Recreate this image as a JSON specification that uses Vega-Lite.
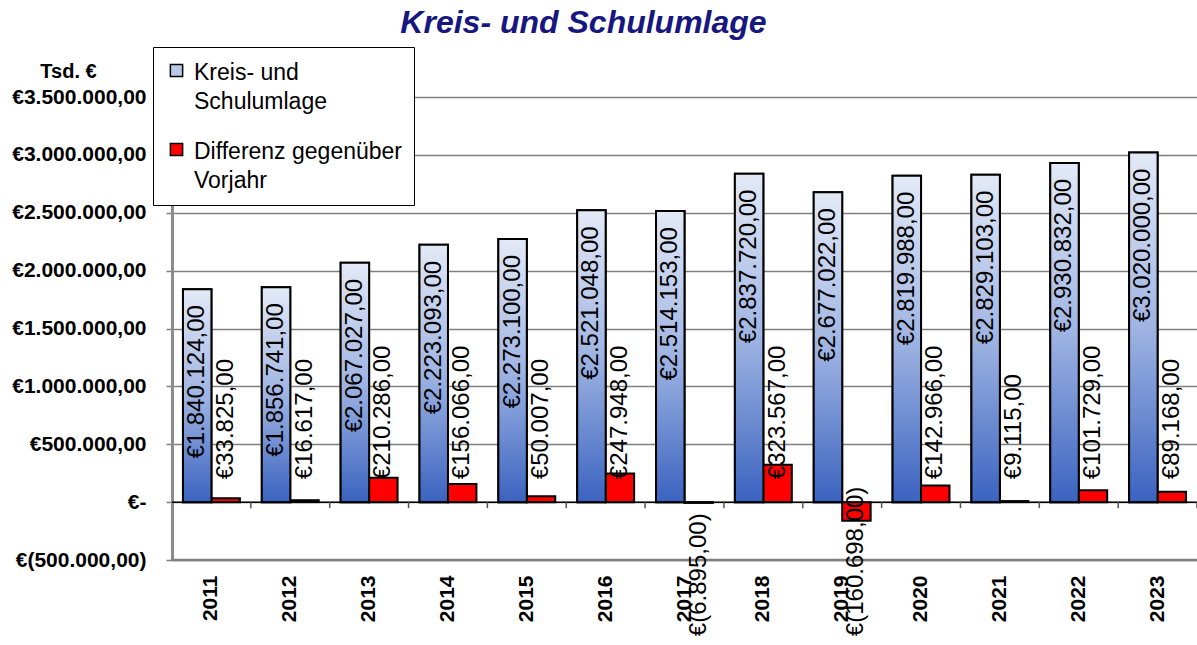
{
  "$schema": "https://vega.github.io/schema/vega-lite/v6.json",
  "width": 1025,
  "height": 463,
  "autosize": {"type": "none"},
  "padding": {"left": 172, "top": 97, "right": 0, "bottom": 85},
  "background": "white",
  "config": {
    "locale": {"number": {"decimal": ",", "thousands": ".", "grouping": [3], "currency": ["€", ""]}},
    "view": {"stroke": null},
    "font": "Liberation Sans"
  },
  "title": {
    "text": "Kreis- und Schulumlage",
    "anchor": "middle",
    "frame": "group",
    "dx": -101,
    "offset": 7,
    "font": "Liberation Sans",
    "fontSize": 32,
    "fontStyle": "italic",
    "fontWeight": "bold",
    "color": "#17177f"
  },
  "data": {
    "values": [
      {"year": "2011", "series": "Kreis- und Schulumlage", "value": 1840124},
      {"year": "2011", "series": "Differenz gegenüber Vorjahr", "value": 33825},
      {"year": "2012", "series": "Kreis- und Schulumlage", "value": 1856741},
      {"year": "2012", "series": "Differenz gegenüber Vorjahr", "value": 16617},
      {"year": "2013", "series": "Kreis- und Schulumlage", "value": 2067027},
      {"year": "2013", "series": "Differenz gegenüber Vorjahr", "value": 210286},
      {"year": "2014", "series": "Kreis- und Schulumlage", "value": 2223093},
      {"year": "2014", "series": "Differenz gegenüber Vorjahr", "value": 156066},
      {"year": "2015", "series": "Kreis- und Schulumlage", "value": 2273100},
      {"year": "2015", "series": "Differenz gegenüber Vorjahr", "value": 50007},
      {"year": "2016", "series": "Kreis- und Schulumlage", "value": 2521048},
      {"year": "2016", "series": "Differenz gegenüber Vorjahr", "value": 247948},
      {"year": "2017", "series": "Kreis- und Schulumlage", "value": 2514153},
      {"year": "2017", "series": "Differenz gegenüber Vorjahr", "value": -6895},
      {"year": "2018", "series": "Kreis- und Schulumlage", "value": 2837720},
      {"year": "2018", "series": "Differenz gegenüber Vorjahr", "value": 323567},
      {"year": "2019", "series": "Kreis- und Schulumlage", "value": 2677022},
      {"year": "2019", "series": "Differenz gegenüber Vorjahr", "value": -160698},
      {"year": "2020", "series": "Kreis- und Schulumlage", "value": 2819988},
      {"year": "2020", "series": "Differenz gegenüber Vorjahr", "value": 142966},
      {"year": "2021", "series": "Kreis- und Schulumlage", "value": 2829103},
      {"year": "2021", "series": "Differenz gegenüber Vorjahr", "value": 9115},
      {"year": "2022", "series": "Kreis- und Schulumlage", "value": 2930832},
      {"year": "2022", "series": "Differenz gegenüber Vorjahr", "value": 101729},
      {"year": "2023", "series": "Kreis- und Schulumlage", "value": 3020000},
      {"year": "2023", "series": "Differenz gegenüber Vorjahr", "value": 89168}
    ]
  },
  "transform": [
    {"calculate": "'€' + (datum.value < 0 ? '(' + format(-datum.value, ',.2f') + ')' : format(datum.value, ',.2f'))", "as": "lbl"}
  ],
  "layer": [
    {
      "mark": {"type": "bar", "stroke": "black", "strokeWidth": 2},
      "encoding": {
        "x": {
          "field": "year", "type": "nominal", "sort": null,
          "scale": {"paddingInner": 0.278, "paddingOuter": 0.139},
          "axis": {
            "title": null, "labelAngle": -90, "labelFontSize": 21, "labelFontWeight": "bold",
            "labelFont": "Liberation Sans", "labelColor": "black", "ticks": false, "domain": false,
            "labelPadding": 15, "labelBaseline": "middle", "labelAlign": "right"
          }
        },
        "xOffset": {
          "field": "series", "type": "nominal",
          "scale": {"domain": ["Kreis- und Schulumlage", "Differenz gegenüber Vorjahr"], "paddingInner": 0, "paddingOuter": 0}
        },
        "y": {
          "field": "value", "type": "quantitative",
          "scale": {"domain": [-500000, 3500000], "nice": false, "zero": false},
          "axis": {
            "values": [-500000, 0, 500000, 1000000, 1500000, 2000000, 2500000, 3000000, 3500000],
            "labelExpr": "datum.value == 0 ? '€-' : (datum.value < 0 ? '€(' + format(-datum.value, ',.2f') + ')' : '€' + format(datum.value, ',.2f'))",
            "labelFontSize": 21, "labelFontWeight": "bold", "labelFont": "Liberation Sans", "labelColor": "black",
            "labelPadding": 20, "tickSize": 6, "tickColor": "#7f7f7f", "tickWidth": 1.5,
            "domainColor": "#8c8c8c", "domainWidth": 3,
            "gridColor": "#7f7f7f", "gridWidth": 1.5,
            "title": "Tsd. €", "titleAngle": 0, "titleX": -104, "titleY": -26,
            "titleAlign": "center", "titleBaseline": "middle",
            "titleFontSize": 20, "titleFontWeight": "bold", "titleFont": "Liberation Sans", "titleColor": "black"
          }
        },
        "color": {
          "field": "series", "type": "nominal",
          "scale": {"domain": ["Kreis- und Schulumlage", "Differenz gegenüber Vorjahr"], "range": ["#b9c9ea", "#ff0000"]},
          "legend": {
            "orient": "none", "legendX": -19, "legendY": -50, "title": null,
            "fillColor": "white", "strokeColor": "black", "padding": 12,
            "symbolType": "square", "symbolSize": 150, "symbolStrokeColor": "black", "symbolStrokeWidth": 1.5,
            "symbolOffset": 0, "symbolOpacity": 1,
            "labelFont": "Liberation Sans", "labelFontSize": 23, "labelColor": "black", "labelLimit": 400,
            "labelOffset": 6, "labelBaseline": "top", "rowPadding": 24,
            "labelExpr": "datum.label == 'Kreis- und Schulumlage' ? ['Kreis- und', 'Schulumlage'] : ['Differenz gegenüber', 'Vorjahr']",
            "encode": {"labels": {"update": {"lineHeight": {"value": 29}, "dy": {"value": -9}}}}
          }
        }
      }
    },
    {
      "transform": [{"filter": "datum.series == 'Kreis- und Schulumlage'"}],
      "mark": {
        "type": "bar", "stroke": "black", "strokeWidth": 2,
        "fill": {"gradient": "linear", "x1": 0, "y1": 0, "x2": 0, "y2": 1,
          "stops": [{"offset": 0, "color": "#e3e9f6"}, {"offset": 0.5, "color": "#9fb4e2"}, {"offset": 1, "color": "#3a63c0"}]}
      },
      "encoding": {
        "x": {"field": "year", "type": "nominal", "sort": null},
        "xOffset": {"field": "series", "type": "nominal"},
        "y": {"field": "value", "type": "quantitative"}
      }
    },
    {
      "data": {"values": [{}]},
      "mark": {"type": "rule", "color": "#7f7f7f", "strokeWidth": 2.5},
      "encoding": {"y": {"datum": -500000, "type": "quantitative"}}
    },
    {
      "data": {"values": [{}]},
      "mark": {"type": "rule", "color": "black", "strokeWidth": 1.5},
      "encoding": {"y": {"datum": 0, "type": "quantitative"}}
    },
    {
      "transform": [{"filter": "datum.series == 'Kreis- und Schulumlage'"}],
      "mark": {"type": "rule", "color": "#555555", "strokeWidth": 1.5},
      "encoding": {
        "x": {"field": "year", "type": "nominal", "sort": null, "bandPosition": 1.1925},
        "y": {"datum": 0, "type": "quantitative"},
        "y2": {"datum": -52000}
      }
    },
    {
      "transform": [{"filter": "datum.series == 'Kreis- und Schulumlage'"}],
      "mark": {"type": "text", "angle": -90, "align": "right", "baseline": "middle", "dx": -16, "fontSize": 24, "font": "Liberation Sans", "color": "black"},
      "encoding": {
        "x": {"field": "year", "type": "nominal", "sort": null},
        "xOffset": {"field": "series", "type": "nominal"},
        "y": {"field": "value", "type": "quantitative"},
        "text": {"field": "lbl"}
      }
    },
    {
      "transform": [{"filter": "datum.series != 'Kreis- und Schulumlage' && datum.value >= 0"}],
      "mark": {"type": "text", "angle": -90, "align": "left", "baseline": "middle", "dx": 23, "fontSize": 24, "font": "Liberation Sans", "color": "black"},
      "encoding": {
        "x": {"field": "year", "type": "nominal", "sort": null},
        "xOffset": {"field": "series", "type": "nominal"},
        "y": {"datum": 0, "type": "quantitative"},
        "text": {"field": "lbl"}
      }
    },
    {
      "transform": [{"filter": "datum.series != 'Kreis- und Schulumlage' && datum.value < 0"}],
      "mark": {"type": "text", "angle": -90, "align": "left", "baseline": "middle", "dx": -134, "fontSize": 24, "font": "Liberation Sans", "color": "black"},
      "encoding": {
        "x": {"field": "year", "type": "nominal", "sort": null},
        "xOffset": {"field": "series", "type": "nominal"},
        "y": {"datum": 0, "type": "quantitative"},
        "text": {"field": "lbl"}
      }
    }
  ]
}
